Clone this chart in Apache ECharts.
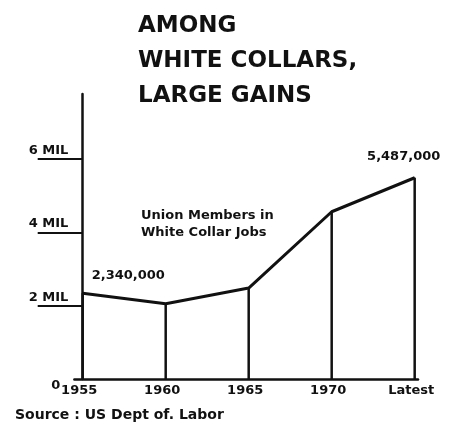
<!DOCTYPE html>
<html>
<head>
<meta charset="utf-8">
<script src="https://cdn.jsdelivr.net/npm/echarts@6/dist/echarts.min.js"></script>
<style>html,body{margin:0;padding:0;background:#fff;}#c{width:451px;height:435px;}</style>
</head>
<body>
<div id="c"></div>
<script>
const categories = ['1955', '1960', '1965', '1970', 'Latest'];
const members = [2340000, 2050000, 2480000, 4560000, 5487000];
const yTicks = [2000000, 4000000, 6000000];
const titleText = 'AMONG\nWHITE COLLARS,\nLARGE GAINS';
const noteText = 'Union Members in\nWhite Collar Jobs';
const sourceText = 'Source : US Dept of. Labor';

const FONT = '"DejaVu Sans", sans-serif';
const pts = members.map((v, i) => [i, v]);

const chart = echarts.init(document.getElementById('c'));
chart.setOption({
  backgroundColor: '#ffffff',
  animation: false,
  title: [
    { text: titleText, left: 133, top: 4,
      textStyle: { fontFamily: FONT, fontSize: 23, fontWeight: 'bold', color: '#111', lineHeight: 35 } },
    { text: noteText, left: 136, top: 202,
      textStyle: { fontFamily: FONT, fontSize: 13, fontWeight: 'bold', color: '#111', lineHeight: 17 } },
    { text: sourceText, left: 10, top: 403,
      textStyle: { fontFamily: FONT, fontSize: 14, fontWeight: 'bold', color: '#111' } }
  ],
  grid: { left: 74.4, right: 33, top: 94, bottom: 56, containLabel: false },
  xAxis: {
    type: 'value', min: -0.1, max: 4.04,
    splitLine: { show: false },
    axisTick: { show: false },
    axisLine: { show: true, lineStyle: { color: '#111', width: 2.5 } },
    axisLabel: {
      customValues: [0, 1, 2, 3, 4],
      formatter: v => categories[Math.round(v)],
      fontFamily: FONT, fontSize: 13, fontWeight: 'bold', color: '#111',
      margin: 5, padding: [0, 7, 0, 0]
    }
  },
  yAxis: [
    {
      type: 'value', min: 0, max: 7770000,
      splitLine: { show: false },
      axisLine: { show: true, onZero: true, lineStyle: { color: '#111', width: 2.5 } },
      axisTick: { show: true, customValues: yTicks, length: 45, lineStyle: { color: '#111', width: 2 } },
      axisLabel: {
        customValues: yTicks,
        formatter: v => (v / 1000000) + ' MIL',
        fontFamily: FONT, fontSize: 13, fontWeight: 'bold', color: '#111',
        verticalAlign: 'bottom', margin: 6, padding: [0, 0, 2, 0]
      }
    },
    {
      type: 'value', min: 0, max: 7770000, position: 'left',
      splitLine: { show: false },
      axisLine: { show: false, onZero: true },
      axisTick: { show: false },
      axisLabel: {
        customValues: [0],
        formatter: v => String(v),
        fontFamily: FONT, fontSize: 13, fontWeight: 'bold', color: '#111',
        verticalAlign: 'top', margin: 14
      }
    }
  ],
  series: [
    {
      type: 'bar', data: pts, barWidth: 2.5,
      itemStyle: { color: '#111' }, silent: true, z: 1
    },
    {
      type: 'line', data: pts.map((p, i) => {
        if (i === 0) return { value: p, label: { show: true, position: 'top', align: 'left', offset: [9, -6] } };
        if (i === 4) return { value: p, label: { show: true, position: 'top', offset: [-11, -9] } };
        return { value: p };
      }),
      showSymbol: true, symbol: 'circle', symbolSize: 1,
      itemStyle: { color: '#111' },
      lineStyle: { color: '#111', width: 3 },
      label: {
        show: false,
        formatter: p => p.value[1].toLocaleString('en-US'),
        fontFamily: FONT, fontSize: 13, fontWeight: 'bold', color: '#111'
      },
      z: 3
    }
  ]
});
</script>
</body>
</html>
